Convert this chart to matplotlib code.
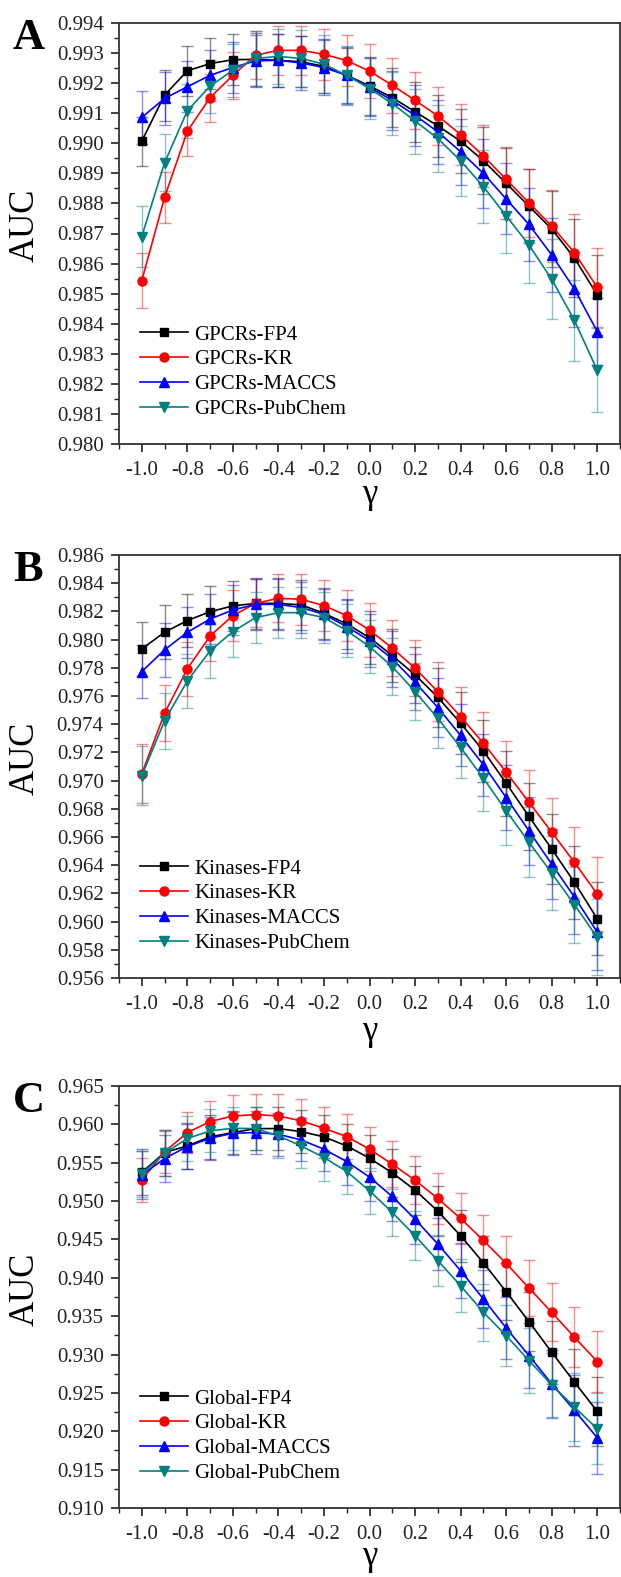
import matplotlib
matplotlib.use("Agg")
import matplotlib.pyplot as plt
from matplotlib.ticker import MultipleLocator, FixedLocator, FormatStrFormatter

plt.rcParams['font.family'] = ['Liberation Serif', 'DejaVu Serif']
plt.rcParams['mathtext.fontset'] = 'custom'
plt.rcParams['mathtext.rm'] = 'Liberation Serif'
plt.rcParams['mathtext.it'] = 'Liberation Serif:italic'
plt.rcParams['mathtext.bf'] = 'Liberation Serif:bold'

# ---------------- data ----------------
gamma = [-1.0, -0.9, -0.8, -0.7, -0.6, -0.5, -0.4, -0.3, -0.2, -0.1, 0.0,
         0.1, 0.2, 0.3, 0.4, 0.5, 0.6, 0.7, 0.8, 0.9, 1.0]
xtick_vals = [-1.0, -0.8, -0.6, -0.4, -0.2, 0.0, 0.2, 0.4, 0.6, 0.8, 1.0]
xtick_labels = ["-1.0", "-0.8", "-0.6", "-0.4", "-0.2", "0.0", "0.2", "0.4", "0.6", "0.8", "1.0"]

fingerprints = ["FP4", "KR", "MACCS", "PubChem"]
prefixes = ["GPCRs", "Kinases", "Global"]
panel_letters = ["A", "B", "C"]

# Panel A: GPCRs
gpcr_fp4 = [0.99007, 0.99160, 0.99241, 0.99265, 0.99278, 0.99279, 0.99276, 0.99271, 0.99256, 0.99226, 0.99191,
            0.99152, 0.99105, 0.99058, 0.99007, 0.98942, 0.98867, 0.98791, 0.98715, 0.98618, 0.98496]
gpcr_kr = [0.98543, 0.98820, 0.99040, 0.99152, 0.99226, 0.99293, 0.99309, 0.99309, 0.99296, 0.99275, 0.99240,
           0.99193, 0.99143, 0.99091, 0.99029, 0.98958, 0.98880, 0.98802, 0.98725, 0.98636, 0.98521]
gpcr_maccs = [0.99086, 0.99149, 0.99188, 0.99226, 0.99252, 0.99274, 0.99276, 0.99267, 0.99252, 0.99226, 0.99186,
              0.99143, 0.99093, 0.99038, 0.98972, 0.98900, 0.98815, 0.98730, 0.98629, 0.98515, 0.98374]
gpcr_pubchem = [0.98690, 0.98935, 0.99108, 0.99190, 0.99243, 0.99282, 0.99289, 0.99282, 0.99263, 0.99226, 0.99182,
                0.99132, 0.99074, 0.99016, 0.98942, 0.98856, 0.98759, 0.98662, 0.98548, 0.98411, 0.98245]
gpcr_fp4_err = [0.00082, 0.00085, 0.00083, 0.00084, 0.00084, 0.00088, 0.00088, 0.00085, 0.00090, 0.00092, 0.00096,
                0.00098, 0.00100, 0.00103, 0.00107, 0.00112, 0.00118, 0.00122, 0.00126, 0.00130, 0.00134]
gpcr_kr_err = [0.00091, 0.00086, 0.00082, 0.00080, 0.00078, 0.00080, 0.00082, 0.00082, 0.00084, 0.00086, 0.00089,
               0.00092, 0.00094, 0.00097, 0.00100, 0.00104, 0.00108, 0.00112, 0.00120, 0.00129, 0.00132]
gpcr_maccs_err = [0.00087, 0.00088, 0.00085, 0.00084, 0.00085, 0.00086, 0.00088, 0.00090, 0.00092, 0.00094, 0.00096,
                  0.00099, 0.00102, 0.00106, 0.00110, 0.00115, 0.00118, 0.00120, 0.00122, 0.00125, 0.00110]
gpcr_pubchem_err = [0.00100, 0.00095, 0.00090, 0.00088, 0.00088, 0.00090, 0.00092, 0.00094, 0.00096, 0.00098, 0.00100,
                    0.00104, 0.00108, 0.00112, 0.00117, 0.00121, 0.00124, 0.00128, 0.00133, 0.00134, 0.00140]

# Panel B: Kinases
kin_fp4 = [0.97934, 0.98052, 0.98135, 0.98198, 0.98239, 0.98257, 0.98257, 0.98246, 0.98187, 0.98111, 0.98014,
           0.97887, 0.97750, 0.97591, 0.97407, 0.97211, 0.96982, 0.96746, 0.96516, 0.96278, 0.96020]
kin_kr = [0.97048, 0.97478, 0.97792, 0.98026, 0.98170, 0.98257, 0.98293, 0.98286, 0.98241, 0.98170, 0.98068,
          0.97939, 0.97797, 0.97631, 0.97454, 0.97265, 0.97060, 0.96847, 0.96635, 0.96420, 0.96195]
kin_maccs = [0.97773, 0.97927, 0.98052, 0.98146, 0.98210, 0.98250, 0.98250, 0.98227, 0.98179, 0.98092, 0.97993,
             0.97863, 0.97698, 0.97518, 0.97320, 0.97112, 0.96880, 0.96644, 0.96408, 0.96174, 0.95926]
kin_pubchem = [0.97034, 0.97424, 0.97707, 0.97920, 0.98057, 0.98156, 0.98191, 0.98191, 0.98156, 0.98064, 0.97950,
               0.97809, 0.97631, 0.97442, 0.97235, 0.97017, 0.96786, 0.96564, 0.96344, 0.96120, 0.95888]
kin_fp4_err = [0.0019, 0.0019, 0.0019, 0.0018, 0.0018, 0.0018, 0.0018, 0.0018, 0.0018, 0.0018, 0.0019,
               0.0019, 0.0020, 0.0021, 0.0022, 0.0022, 0.0023, 0.0024, 0.0025, 0.0026, 0.0026]
kin_kr_err = [0.0021, 0.0020, 0.0019, 0.0018, 0.0018, 0.0017, 0.0017, 0.0018, 0.0018, 0.0018, 0.0019,
              0.0020, 0.0020, 0.0021, 0.0021, 0.0022, 0.0022, 0.0023, 0.0024, 0.0025, 0.0026]
kin_maccs_err = [0.0019, 0.0019, 0.0018, 0.0018, 0.0018, 0.0018, 0.0018, 0.0018, 0.0018, 0.0019, 0.0019,
                 0.0020, 0.0020, 0.0021, 0.0022, 0.0022, 0.0023, 0.0024, 0.0025, 0.0026, 0.0027]
kin_pubchem_err = [0.0021, 0.0020, 0.0019, 0.0019, 0.0018, 0.0018, 0.0018, 0.0018, 0.0018, 0.0019, 0.0019,
                   0.0020, 0.0020, 0.0021, 0.0022, 0.0023, 0.0024, 0.0025, 0.0026, 0.0027, 0.0027]

# Panel C: Global
glob_fp4 = [0.95373, 0.95633, 0.95719, 0.95837, 0.95893, 0.95945, 0.95945, 0.95906, 0.95837, 0.95719, 0.95559,
            0.95368, 0.95143, 0.94869, 0.94549, 0.94197, 0.93820, 0.93430, 0.93031, 0.92641, 0.92259]
glob_kr = [0.95277, 0.95641, 0.95893, 0.96036, 0.96110, 0.96127, 0.96110, 0.96045, 0.95949, 0.95841, 0.95676,
           0.95481, 0.95273, 0.95034, 0.94774, 0.94488, 0.94189, 0.93868, 0.93551, 0.93226, 0.92909]
glob_maccs = [0.95338, 0.95555, 0.95711, 0.95819, 0.95884, 0.95893, 0.95871, 0.95797, 0.95676, 0.95516, 0.95312,
              0.95060, 0.94765, 0.94440, 0.94093, 0.93725, 0.93347, 0.92987, 0.92619, 0.92272, 0.91916]
glob_pubchem = [0.95351, 0.95624, 0.95815, 0.95915, 0.95949, 0.95945, 0.95850, 0.95719, 0.95568, 0.95386, 0.95134,
                0.94852, 0.94549, 0.94223, 0.93898, 0.93551, 0.93248, 0.92922, 0.92606, 0.92315, 0.92033]
glob_fp4_err = [0.0030, 0.0030, 0.0030, 0.0029, 0.0028, 0.0028, 0.0028, 0.0028, 0.0028, 0.0029, 0.0030,
                0.0031, 0.0032, 0.0033, 0.0034, 0.0035, 0.0037, 0.0039, 0.0041, 0.0043, 0.0045]
glob_kr_err = [0.0029, 0.0027, 0.0027, 0.0027, 0.0027, 0.0027, 0.0028, 0.0028, 0.0028, 0.0029, 0.0029,
               0.0030, 0.0031, 0.0033, 0.0033, 0.0033, 0.0035, 0.0037, 0.0038, 0.0039, 0.0040]
glob_maccs_err = [0.0031, 0.0030, 0.0029, 0.0028, 0.0028, 0.0028, 0.0028, 0.0028, 0.0029, 0.0030, 0.0031,
                  0.0032, 0.0033, 0.0034, 0.0036, 0.0038, 0.0040, 0.0042, 0.0044, 0.0046, 0.0047]
glob_pubchem_err = [0.0030, 0.0030, 0.0029, 0.0028, 0.0028, 0.0028, 0.0029, 0.0029, 0.0030, 0.0030, 0.0030,
                    0.0031, 0.0032, 0.0033, 0.0035, 0.0037, 0.0040, 0.0042, 0.0042, 0.0044, 0.0046]

panels = [
    dict(values=[gpcr_fp4, gpcr_kr, gpcr_maccs, gpcr_pubchem],
         errors=[gpcr_fp4_err, gpcr_kr_err, gpcr_maccs_err, gpcr_pubchem_err],
         ylim=(0.980, 0.994), major=0.001, minor=0.0005, fmt="%.3f"),
    dict(values=[kin_fp4, kin_kr, kin_maccs, kin_pubchem],
         errors=[kin_fp4_err, kin_kr_err, kin_maccs_err, kin_pubchem_err],
         ylim=(0.956, 0.986), major=0.002, minor=0.001, fmt="%.3f"),
    dict(values=[glob_fp4, glob_kr, glob_maccs, glob_pubchem],
         errors=[glob_fp4_err, glob_kr_err, glob_maccs_err, glob_pubchem_err],
         ylim=(0.910, 0.965), major=0.005, minor=0.0025, fmt="%.3f"),
]

colors = ["#000000", "#FF0000", "#0000FF", "#008080"]
markers = ["s", "o", "^", "v"]

# ---------------- layout (pixels) ----------------
W, H = 621, 1577
fig = plt.figure(figsize=(W / 100, H / 100), dpi=100)
fig.patch.set_facecolor("white")

boxes = [(119, 23, 620, 444), (119, 555, 620, 978), (119, 1086, 620, 1508)]
# bottom edge (pixels from top) of the γ label box for each panel
gamma_bottom = [513, 1050, 1575]


def rect(l, t, r, b):
    return [l / W, 1 - b / H, (r - l) / W, (b - t) / H]


for i, (panel, box) in enumerate(zip(panels, boxes)):
    ax = fig.add_axes(rect(*box))
    for j in range(4):
        ax.errorbar(gamma, panel["values"][j], yerr=panel["errors"][j], fmt="none",
                    ecolor=colors[j], alpha=0.45, elinewidth=1.0, capsize=4.5, capthick=1.0,
                    zorder=2)
    for j in range(4):
        ax.plot(gamma, panel["values"][j], color=colors[j], marker=markers[j],
                markersize=6.5 if markers[j] in ("o", "^", "v") else 6,
                linewidth=1.2, label=f"{prefixes[i]}-{fingerprints[j]}", zorder=3 + j)

    ax.set_xlim(-1.1, 1.1)
    ax.set_ylim(*panel["ylim"])
    ax.xaxis.set_major_locator(FixedLocator(xtick_vals))
    ax.set_xticklabels(xtick_labels)
    ax.xaxis.set_minor_locator(MultipleLocator(0.1))
    ax.yaxis.set_major_locator(MultipleLocator(panel["major"]))
    ax.yaxis.set_minor_locator(MultipleLocator(panel["minor"]))
    ax.yaxis.set_major_formatter(FormatStrFormatter(panel["fmt"]))
    ax.tick_params(axis="both", which="major", direction="out", length=6, width=1.2,
                   labelsize=15, colors="#222222", pad=5)
    ax.tick_params(axis="x", which="major", pad=6.5)
    ax.tick_params(axis="both", which="minor", direction="out", length=3.5, width=1.0,
                   colors="#222222")
    for s in ax.spines.values():
        s.set_linewidth(1.3)
        s.set_color("#333333")

    ax.legend(loc="lower left", bbox_to_anchor=(0.005, 0.015), frameon=False, fontsize=15,
              handlelength=2.3, handletextpad=0.3, labelspacing=0.25, borderaxespad=0.6,
              borderpad=0.3)

    l, t, r, b = box
    mid_y = (t + b) / 2 - 8
    fig.text(25 / W, 1 - mid_y / H, "AUC", rotation=90, ha="center", va="center", fontsize=25)
    fig.text(370 / W, 1 - gamma_bottom[i] / H, r"$\mathrm{\gamma}$", ha="center",
             va="bottom", fontsize=25)
    fig.text(13 / W, 1 - (t - 5) / H, panel_letters[i], ha="left", va="top", fontsize=32,
             fontweight="bold")

fig.savefig("out.png", dpi=100, facecolor="white")
